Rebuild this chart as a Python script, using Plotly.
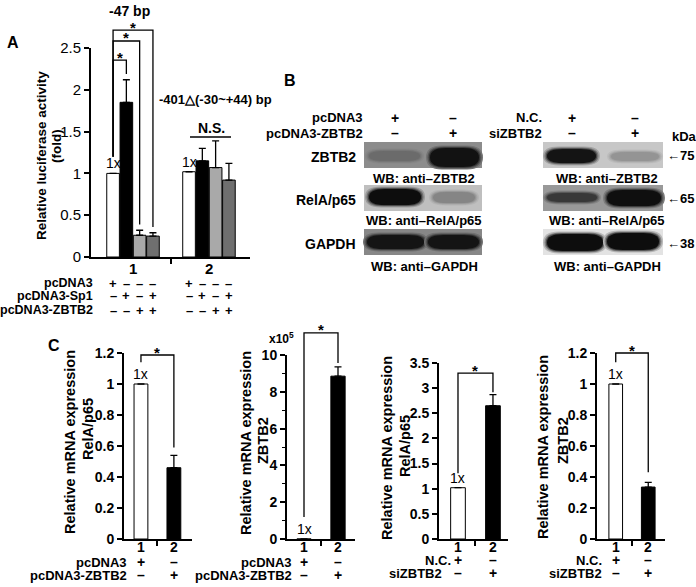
import plotly.graph_objects as go

W, H = 696, 587
FONT = "Liberation Sans, Arial, Helvetica, sans-serif"

# ---------------- data ----------------
# Panel A: relative luciferase activity (fold)
a_groups = [1, 2]
a_group_labels = ["1", "2"]
a_white = [1.00, 1.02]
a_black = [1.85, 1.15]
a_light = [0.26, 1.07]
a_dark = [0.25, 0.92]
a_white_err = [0.00, 0.00]
a_black_err = [0.27, 0.15]
a_light_err = [0.06, 0.32]
a_dark_err = [0.04, 0.20]
a_yticks = [0, 0.5, 1, 1.5, 2, 2.5]
a_yticklabels = ["0", "0.5", "1", "1.5", "2", "2.5"]
a_rows = ["pcDNA3", "pcDNA3-Sp1", "pcDNA3-ZBTB2"]
a_signs = [["+", "–", "–", "–"], ["–", "+", "–", "+"], ["–", "–", "+", "+"]]

# Panel B: western blots (band intensity as gray level, 0 = black, 1 = white)
b_rows = ["ZBTB2", "RelA/p65", "GAPDH"]
b_wb = ["WB: anti–ZBTB2", "WB: anti–RelA/p65", "WB: anti–GAPDH"]
b_kda = ["75", "65", "38"]
b_left_rows = ["pcDNA3", "pcDNA3-ZBTB2"]
b_left_signs = [["+", "–"], ["–", "+"]]
b_right_rows = ["N.C.", "siZBTB2"]
b_right_signs = [["+", "–"], ["–", "+"]]
b_left_bg = [0.55, 0.75, 0.53]
b_left_band = [[0.42, 0.07], [0.05, 0.52], [0.08, 0.08]]
b_right_bg = [0.78, 0.60, 0.89]
b_right_band = [[0.08, 0.58], [0.22, 0.06], [0.05, 0.05]]

# Panel C: relative mRNA expression
c_cats = [1, 2]
c_cat_labels = ["1", "2"]
c1_vals = [1.0, 0.46]
c1_err = [0.0, 0.08]
c2_vals = [0.00001, 8.85]   # x10^5
c2_err = [0.0, 0.50]
c3_vals = [1.02, 2.65]
c3_err = [0.0, 0.22]
c4_vals = [1.0, 0.335]
c4_err = [0.0, 0.03]
c1_ticks = [0, 0.2, 0.4, 0.6, 0.8, 1, 1.2]
c1_ticklabels = ["0", "0.2", "0.4", "0.6", "0.8", "1", "1.2"]
c2_ticks = [0, 2, 4, 6, 8, 10]
c2_ticklabels = ["0", "2", "4", "6", "8", "10"]
c3_ticks = [0, 0.5, 1, 1.5, 2, 2.5, 3, 3.5]
c3_ticklabels = ["0", "0.5", "1", "1.5", "2", "2.5", "3", "3.5"]
c4_ticks = c1_ticks
c4_ticklabels = c1_ticklabels
c1_rows = ["pcDNA3", "pcDNA3-ZBTB2"]
c3_rows = ["N.C.", "siZBTB2"]
c_signs = [["+", "–"], ["–", "+"]]
c_title_main = "Relative mRNA expression"
c_title_genes = ["RelA/p65", "ZBTB2", "RelA/p65", "ZBTB2"]

# ---------------- geometry (pixels) ----------------
AX = {
    "A":  dict(xd=(91, 250), yd=(48, 257), xr=(0.447, 2.54), yr=(0, 2.5)),
    "C1": dict(xd=(124, 192), yd=(353, 539), xr=(0.485, 2.55), yr=(0, 1.2)),
    "C2": dict(xd=(287, 355), yd=(355, 539), xr=(0.5, 2.5), yr=(0, 10)),
    "C3": dict(xd=(439, 508), yd=(363, 539), xr=(0.457, 2.43), yr=(0, 3.5)),
    "C4": dict(xd=(597, 665), yd=(353, 539), xr=(0.424, 2.515), yr=(0, 1.2)),
}


def PX(p):
    return p / W


def PY(p):
    return 1 - p / H


def dx(k, v):
    s = AX[k]
    return s["xd"][0] + (v - s["xr"][0]) / (s["xr"][1] - s["xr"][0]) * (s["xd"][1] - s["xd"][0])


def dy(k, v):
    s = AX[k]
    return s["yd"][1] - (v - s["yr"][0]) / (s["yr"][1] - s["yr"][0]) * (s["yd"][1] - s["yd"][0])


def gray(level):
    g = int(round(255 * max(0, min(1, level))))
    return f"rgb({g},{g},{g})"


fig = go.Figure()
annotations = []
shapes = []


def ann(text, x, y, size=13, bold=True, xanchor="center", yanchor="middle", angle=0, color="black"):
    annotations.append(dict(
        text=f"<b>{text}</b>" if bold else text, x=PX(x), y=PY(y), xref="paper", yref="paper",
        showarrow=False, xanchor=xanchor, yanchor=yanchor, textangle=angle, borderpad=0,
        font=dict(family=FONT, size=size, color=color)))


def line(x0, y0, x1, y1, width=1.3, color="black"):
    shapes.append(dict(type="line", xref="paper", yref="paper", x0=PX(x0), y0=PY(y0),
                       x1=PX(x1), y1=PY(y1), line=dict(color=color, width=width)))


def bracket(xl, yl, xr, yr, ytop):
    shapes.append(dict(type="path", xref="paper", yref="paper",
                       path=f"M {PX(xl)} {PY(yl)} L {PX(xl)} {PY(ytop)} L {PX(xr)} {PY(ytop)} L {PX(xr)} {PY(yr)}",
                       line=dict(color="black", width=1.3)))


def err_bar(vals, errs):
    return dict(type="data", symmetric=False, array=errs, arrayminus=[0] * len(errs),
                color="black", thickness=1.3, width=3.5)


# ---------------- Panel A ----------------
a_series = [(a_white, a_white_err, "white"), (a_black, a_black_err, "black"),
            (a_light, a_light_err, "#a9a9a9"), (a_dark, a_dark_err, "#6f6f6f")]
for vals, errs, col in a_series:
    fig.add_trace(go.Bar(x=a_groups, y=vals, marker=dict(color=col, line=dict(color="black", width=1)),
                         error_y=err_bar(vals, errs), xaxis="x", yaxis="y", hoverinfo="skip"))

slot = 0.7 / 4


def a_center(g, i):
    return g - 0.35 + slot * (i + 0.5)


a_br_tops = [2.356, 2.584, 2.715]
a_vals_g1 = [a_black[0] + a_black_err[0], a_light[0] + a_light_err[0], a_dark[0] + a_dark_err[0]]
for j, top in enumerate(a_br_tops):
    xl = dx("A", a_center(1, 0))
    xr = dx("A", a_center(1, j + 1))
    bracket(xl, dy("A", 1.2), xr, dy("A", a_vals_g1[j] + 0.07), dy("A", top))
    ann("*", (xl + xr) / 2, dy("A", top) - 3, size=15)

for g in a_groups:
    ann("1x", dx("A", a_center(g, 0)), dy("A", a_white[g - 1]) - 1, size=14, bold=False, yanchor="bottom")

for g, lab in zip(a_groups, a_group_labels):
    ann(lab, dx("A", g), 268, size=15)

ann("-47 bp", 129, 11, size=14)
ann("-401△(-30~+44) bp", 215, 99, size=13)
ann("N.S.", 211, 128, size=14)
line(190, 137, 231, 137, width=1.3)
ann("A", 13, 43, size=16)
ann("Relative luciferase activity", 41, 156, size=13.5, angle=-90)
ann("(fold)", 57, 146, size=13.5, angle=-90)

a_row_y = [283, 296, 310]
for r, name in enumerate(a_rows):
    ann(name, 94, a_row_y[r], size=12.5, xanchor="right")
    for g in a_groups:
        for i in range(4):
            ann(a_signs[r][i], dx("A", a_center(g, i)), a_row_y[r], size=13)

# ---------------- Panel B ----------------
ann("B", 290, 80, size=16)
left_x = (364, 482)
right_x = (543, 663)
row_y = [(142, 168), (185, 211), (229, 255)]
left_lanes = [[(369, 420, 151, 161), (430, 479, 148, 167)],
              [(369, 421, 189, 205), (433, 475, 192, 203)],
              [(367, 424, 235, 249), (428, 479, 235, 249)]]
right_lanes = [[(547, 596, 149, 163), (611, 659, 152, 161)],
               [(547, 597, 193, 202), (607, 661, 190, 206)],
               [(547, 603, 234, 251), (607, 659, 233, 250)]]


def band_path(x0, x1, y0, y1):
    rx = min(16, (x1 - x0) / 3)
    ym = (y0 + y1) / 2
    return (f"M {PX(x0 + rx)} {PY(y0)} L {PX(x1 - rx)} {PY(y0)} "
            f"Q {PX(x1)} {PY(y0)} {PX(x1)} {PY(ym)} Q {PX(x1)} {PY(y1)} {PX(x1 - rx)} {PY(y1)} "
            f"L {PX(x0 + rx)} {PY(y1)} Q {PX(x0)} {PY(y1)} {PX(x0)} {PY(ym)} "
            f"Q {PX(x0)} {PY(y0)} {PX(x0 + rx)} {PY(y0)} Z")


def draw_blot(xr_, bgs, bands, lanes):
    for r in range(3):
        y0, y1 = row_y[r]
        shapes.append(dict(type="rect", xref="paper", yref="paper", x0=PX(xr_[0]), x1=PX(xr_[1]),
                           y0=PY(y1), y1=PY(y0), fillcolor=gray(bgs[r]), line=dict(width=0), layer="above"))
        for k in range(2):
            bx0, bx1, by0, by1 = lanes[r][k]
            lvl = bands[r][k]
            for grow, frac in [(4, 0.2), (2.5, 0.45), (1.2, 0.72), (0, 1.0)]:
                col = gray(bgs[r] + (lvl - bgs[r]) * frac)
                shapes.append(dict(type="path", xref="paper", yref="paper", layer="above",
                                   path=band_path(bx0 - grow, bx1 + grow, by0 - grow * 0.6, by1 + grow * 0.6),
                                   fillcolor=col, line=dict(width=0)))


draw_blot(left_x, b_left_bg, b_left_band, left_lanes)
draw_blot(right_x, b_right_bg, b_right_band, right_lanes)

left_lane_x = [395, 453]
right_lane_x = [572, 635]
for r in range(2):
    yy = [118, 133][r]
    ann(b_left_rows[r], 364, yy, size=13, xanchor="right")
    ann(b_right_rows[r], 543, yy, size=13, xanchor="right")
    for k in range(2):
        ann(b_left_signs[r][k], left_lane_x[k], yy, size=14)
        ann(b_right_signs[r][k], right_lane_x[k], yy, size=14)

label_y = [157, 200, 244]
wb_y = [178, 221, 266]
for r in range(3):
    ann(b_rows[r], 357, label_y[r], size=14, xanchor="right")
    ann(b_wb[r], 424, wb_y[r], size=13)
    ann(b_wb[r], 607, wb_y[r], size=13)
    ann("←" + b_kda[r], 666, [155, 198, 243][r], size=13, xanchor="left")
ann("kDa", 671, 137, size=13, xanchor="left")

# ---------------- Panel C ----------------
c_specs = [("C1", c1_vals, c1_err, "x2", "y2"), ("C2", c2_vals, c2_err, "x3", "y3"),
           ("C3", c3_vals, c3_err, "x4", "y4"), ("C4", c4_vals, c4_err, "x5", "y5")]
for key, vals, errs, xa, ya in c_specs:
    fig.add_trace(go.Bar(x=c_cats, y=vals, width=0.42,
                         marker=dict(color=["white", "black"], line=dict(color="black", width=1)),
                         error_y=err_bar(vals, errs), xaxis=xa, yaxis=ya, hoverinfo="skip"))

ann("C", 54, 345, size=16)

c_br = {"C1": (1.14, 0.59, 1.187), "C2": (1.2, 9.57, 11.2), "C3": (1.31, 2.92, 3.3), "C4": (1.14, 0.43, 1.2)}
for key, vals, errs, xa, ya in c_specs:
    lb, rb, top = c_br[key]
    xl = dx(key, c_cats[0])
    xr = dx(key, c_cats[1])
    bracket(xl, dy(key, lb), xr, dy(key, rb), dy(key, top))
    ann("*", (xl + xr) / 2, dy(key, top) - 3, size=15)
    ann("1x", xl, dy(key, vals[0]) - 1, size=14, bold=False, yanchor="bottom")
    for c, lab in zip(c_cats, c_cat_labels):
        ann(lab, dx(key, c), 547, size=14)

ann("x10<sup>5</sup>", 281, 338, size=12)

c_title_pos = [((70, 442), (88, 429)), ((246, 443), (263, 441)),
               ((387, 448), (405, 446)), ((543, 447), (563, 441))]
for k, ((x1, y1), (x2, y2)) in enumerate(c_title_pos):
    ann(c_title_main, x1, y1, size=14.5, angle=-90)
    ann(c_title_genes[k], x2, y2, size=14.5, angle=-90)

c_rows_spec = [("C1", c1_rows, [128, 128], [562, 575]), ("C2", c1_rows, [293, 293], [562, 575]),
               ("C3", c3_rows, [452, 443], [560, 573]), ("C4", c3_rows, [603, 603], [560, 573])]
for key, rows, xrs, ys in c_rows_spec:
    for r in range(2):
        ann(rows[r], xrs[r], ys[r], size=13, xanchor="right")
        for k in range(2):
            ann(c_signs[r][k], dx(key, c_cats[k]), ys[r], size=14)


# ---------------- axes ----------------
def yaxis_cfg(key, anchor, ticks, labels, size, bold, minor=None):
    s = AX[key]
    d = dict(domain=[PY(s["yd"][1]), PY(s["yd"][0])], range=list(s["yr"]), anchor=anchor,
             tickmode="array", tickvals=ticks,
             ticktext=[f"<b>{t}</b>" if bold else t for t in labels],
             ticks="outside", ticklen=5, tickwidth=1.5, tickcolor="black",
             showline=True, linewidth=2, linecolor="black", showgrid=False, zeroline=False,
             automargin=False,
             tickfont=dict(family=FONT, size=size, color="black"), fixedrange=True)
    if minor:
        d["minor"] = minor
    return d


def xaxis_cfg(key, anchor):
    s = AX[key]
    return dict(domain=[PX(s["xd"][0]), PX(s["xd"][1])], range=list(s["xr"]), anchor=anchor,
                tickmode="array", tickvals=[1.5], showticklabels=False,
                ticks="outside", ticklen=5, tickwidth=1.5, tickcolor="black",
                showline=True, linewidth=2, linecolor="black", showgrid=False, zeroline=False,
                automargin=False, fixedrange=True)


layout = dict(
    width=W, height=H, margin=dict(l=0, r=0, t=0, b=0, pad=0, autoexpand=False),
    paper_bgcolor="white", plot_bgcolor="white", showlegend=False,
    barmode="group", bargap=0.3, bargroupgap=0.05,
    font=dict(family=FONT, color="black"),
    xaxis=xaxis_cfg("A", "y"),
    yaxis=yaxis_cfg("A", "x", a_yticks, a_yticklabels, 15, False),
    xaxis2=xaxis_cfg("C1", "y2"),
    yaxis2=yaxis_cfg("C1", "x2", c1_ticks, c1_ticklabels, 14, True),
    xaxis3=xaxis_cfg("C2", "y3"),
    yaxis3=yaxis_cfg("C2", "x3", c2_ticks, c2_ticklabels, 14, True,
                     minor=dict(dtick=1, ticks="outside", ticklen=3, tickwidth=1.3, tickcolor="black")),
    xaxis4=xaxis_cfg("C3", "y4"),
    yaxis4=yaxis_cfg("C3", "x4", c3_ticks, c3_ticklabels, 14, True),
    xaxis5=xaxis_cfg("C4", "y5"),
    yaxis5=yaxis_cfg("C4", "x5", c4_ticks, c4_ticklabels, 14, True),
    annotations=annotations, shapes=shapes,
)
fig.update_layout(**layout)
fig.write_html("out.html", config={"displayModeBar": False},
               post_script="document.body.style.margin='0px';document.body.style.overflow='hidden';")
